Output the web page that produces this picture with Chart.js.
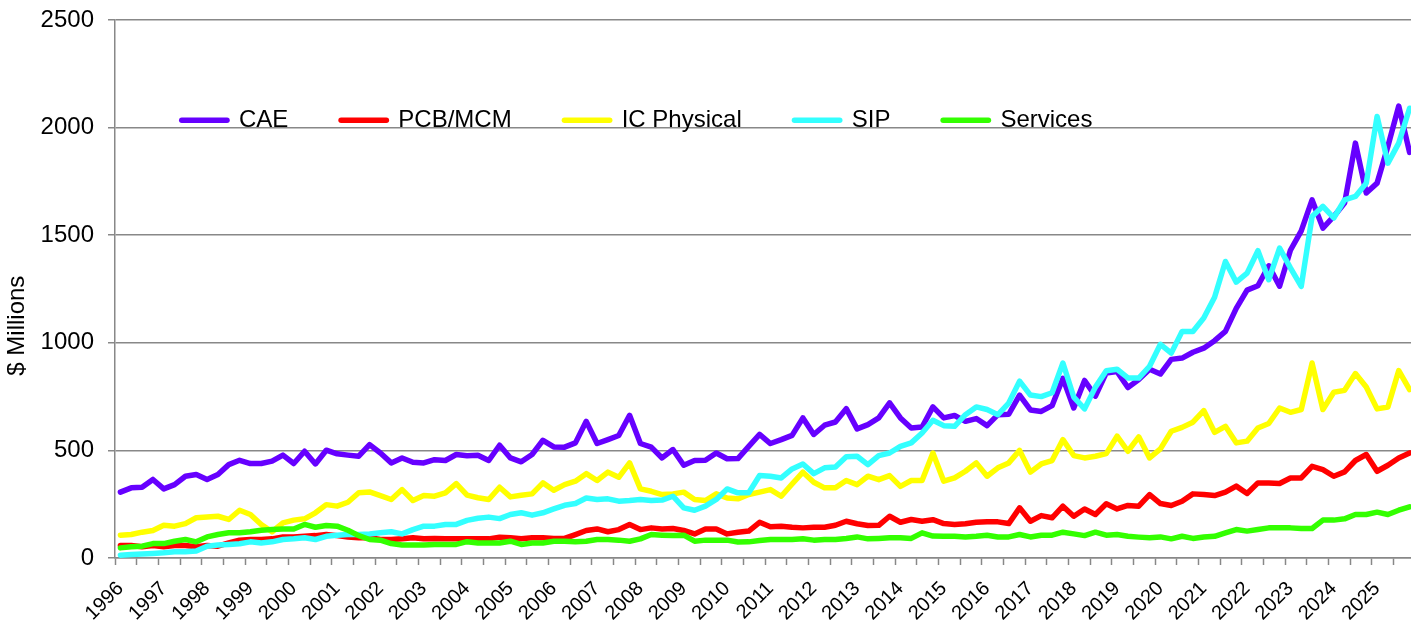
<!DOCTYPE html>
<html>
<head>
<meta charset="utf-8">
<script src="https://cdn.jsdelivr.net/npm/chart.js@4"></script>
<style>
  html, body { margin: 0; padding: 0; background: #ffffff; overflow: hidden; width: 1411px; height: 626px; }
  #wrap { width: 1415px; height: 626px; }
</style>
</head>
<body>
<div id="wrap"><canvas id="c" width="1415" height="626"></canvas></div>
<script>
// ---- data (quarterly, 1996 Q1 .. 2025 Q4), $ Millions ----
const yearLabels = ['1996','1997','1998','1999','2000','2001','2002','2003','2004','2005',
  '2006','2007','2008','2009','2010','2011','2012','2013','2014','2015',
  '2016','2017','2018','2019','2020','2021','2022','2023','2024','2025'];
const quarterNames = ['Q1','Q2','Q3','Q4'];

const seriesNames = ['CAE', 'PCB/MCM', 'IC Physical', 'SIP', 'Services'];
const seriesColors = ['#6600FF', '#FF0000', '#FFFF00', '#33FFFF', '#33FF00'];

const cae = [306,326,329,365,321,341,380,388,365,388,
  434,454,439,439,450,478,439,496,437,501,
  484,478,473,527,488,442,465,445,442,457,
  453,481,475,477,453,524,465,447,481,547,
  516,515,535,635,532,550,569,663,532,515,
  465,504,431,453,454,488,461,462,519,574,
  532,550,570,651,574,617,632,694,600,620,
  651,721,651,604,609,702,651,662,635,648,
  615,666,668,757,688,681,708,835,697,825,
  752,860,866,792,829,877,855,923,929,956,
  975,1010,1053,1160,1245,1265,1358,1263,1430,1520,
  1664,1533,1587,1649,1928,1696,1742,1913,2100,1885];

const pcbMcm = [58,58,52,58,52,58,58,52,58,55,
  70,83,86,86,89,98,98,101,104,109,
  104,98,94,94,86,86,89,94,89,91,
  89,89,90,89,89,97,94,89,94,94,
  91,91,109,128,135,122,132,156,132,140,
  135,137,128,112,135,135,112,120,125,166,
  145,148,143,140,143,143,152,171,159,151,
  152,194,166,179,171,178,160,156,159,166,
  168,168,160,233,171,197,187,241,194,228,
  202,252,228,244,241,295,253,244,264,298,
  295,290,306,334,300,349,349,346,372,372,
  426,411,380,400,453,481,403,431,465,488];

const icPhysical = [106,109,120,128,152,148,160,187,190,194,
  179,222,202,156,122,163,176,182,210,248,
  241,259,303,307,290,272,318,267,290,287,
  303,346,292,280,272,329,284,292,298,349,
  315,341,357,392,360,399,375,442,321,310,
  295,298,306,272,267,298,279,275,295,306,
  318,287,344,399,352,326,326,360,341,380,
  364,383,333,360,360,488,357,372,403,442,
  380,419,442,500,399,437,453,550,476,465,
  473,485,566,496,563,465,507,589,607,631,
  685,584,612,535,543,604,625,697,677,690,
  906,690,770,779,857,795,693,702,871,782];

const sip = [13,16,19,21,24,29,29,32,55,60,
  63,66,75,70,75,86,89,94,86,101,
  106,109,109,112,117,122,112,132,148,148,
  156,156,175,185,190,183,202,210,199,210,
  228,245,253,279,272,275,264,267,272,267,
  269,287,233,222,241,272,321,303,303,383,
  380,372,414,437,392,419,423,470,473,434,
  476,488,519,535,581,640,615,612,666,702,
  690,666,720,822,757,750,768,906,748,693,
  794,870,877,837,836,891,993,952,1053,1053,
  1115,1212,1378,1282,1324,1428,1293,1440,1348,1262,
  1587,1634,1580,1664,1680,1742,2052,1835,1928,2090];

const services = [47,52,55,67,67,78,86,75,98,109,
  117,117,122,129,132,135,135,156,143,151,
  148,129,104,86,83,67,60,60,60,63,
  63,63,76,70,70,70,78,63,70,70,
  78,78,75,78,86,86,83,78,89,109,
  106,104,106,78,83,83,83,74,75,81,
  86,86,86,89,83,86,86,91,98,89,
  91,94,94,91,117,102,101,101,98,101,
  106,98,98,109,98,106,106,120,112,104,
  120,106,109,101,97,94,98,89,101,91,
  98,101,117,132,125,132,140,140,140,137,
  137,176,176,182,202,202,213,202,222,238];

const seriesValues = [cae, pcbMcm, icPhysical, sip, services];

// ---- chart ----
const categories = yearLabels.flatMap(y => quarterNames.map(q => y + ' ' + q));
const FONT = '"Liberation Sans", Arial, sans-serif';
const GRID = '#888888';
const LEGEND_LINE_START = 181.75;
const LEGEND_CENTER_Y = 120.3;

// Legend laid out as one horizontal row inside the plot area (takes no layout space)
const legendPlacer = {
  id: 'legendPlacer',
  beforeLayout(chart) {
    const lg = chart.legend;
    if (lg && !lg.__flat) {
      const origFit = lg.fit;
      lg.fit = function () { origFit.call(this); this.height = 0; };
      lg.__flat = true;
    }
  },
  afterLayout(chart) {
    const lg = chart.legend;
    if (!lg) return;
    const lab = lg.options.labels;
    const pad = lab.padding;
    const fs = lab.font.size;
    lg.left = LEGEND_LINE_START - pad;
    lg.top = LEGEND_CENTER_Y - pad - fs / 2;
    lg.right = chart.chartArea.right;
    lg.bottom = chart.chartArea.bottom;
    lg.width = lg.right - lg.left;
    lg.height = lg.bottom - lg.top;
  }
};

new Chart(document.getElementById('c'), {
  type: 'line',
  data: {
    labels: categories,
    datasets: seriesNames.map((name, k) => ({
      label: name,
      data: seriesValues[k],
      borderColor: seriesColors[k],
      backgroundColor: seriesColors[k],
      borderWidth: 5.5,
      borderCapStyle: 'round',
      borderJoinStyle: 'round',
      pointRadius: 0,
      pointHoverRadius: 0,
      tension: 0,
      fill: false,
      order: seriesNames.length - k
    }))
  },
  options: {
    responsive: false,
    animation: false,
    devicePixelRatio: 1,
    events: [],
    layout: { padding: { top: 20, left: 0, right: 0, bottom: 0 }, autoPadding: false },
    plugins: {
      legend: {
        position: 'top',
        align: 'start',
        labels: {
          usePointStyle: true,
          pointStyle: 'line',
          pointStyleWidth: 45.25,
          padding: 52.75,
          color: '#000000',
          font: { family: FONT, size: 24 },
          sort: (a, b) => a.datasetIndex - b.datasetIndex,
          generateLabels: (chart) => Chart.defaults.plugins.legend.labels.generateLabels(chart)
            .map(item => Object.assign(item, { lineCap: 'round', lineWidth: 5.5 }))
        }
      },
      tooltip: { enabled: false },
      title: { display: false }
    },
    scales: {
      x: {
        type: 'category',
        offset: true,
        grid: {
          offset: true,
          drawOnChartArea: false,
          drawTicks: true,
          tickLength: 7,
          tickWidth: 1.5,
          color: GRID,
          tickColor: (ctx) => (ctx.index % 2 === 0 ? GRID : 'rgba(0,0,0,0)')
        },
        border: { display: true, color: GRID, width: 1.5 },
        ticks: {
          autoSkip: false,
          minRotation: 45,
          maxRotation: 45,
          padding: 12,
          color: '#000000',
          font: { family: FONT, size: 20 },
          callback: (value, index) => (index % 4 === 0 ? yearLabels[index / 4] : '')
        },
        afterFit: (scale) => { scale.height = 68; scale.paddingLeft = 0; scale.paddingRight = 0; }
      },
      y: {
        min: 0,
        max: 2500,
        ticks: {
          stepSize: 500,
          padding: 14,
          color: '#000000',
          font: { family: FONT, size: 24 },
          callback: (value) => String(value)
        },
        grid: { color: GRID, lineWidth: 1.5, tickLength: 7, drawTicks: true },
        border: { display: true, color: GRID, width: 1.5 },
        title: {
          display: true,
          text: '$ Millions' + ' '.repeat(11),
          color: '#000000',
          font: { family: FONT, size: 24 },
          padding: { top: 3, bottom: 0 }
        },
        afterFit: (scale) => { scale.width = 115; scale.paddingTop = 0; scale.paddingBottom = 0; }
      }
    }
  },
  plugins: [legendPlacer]
});
</script>
</body>
</html>
